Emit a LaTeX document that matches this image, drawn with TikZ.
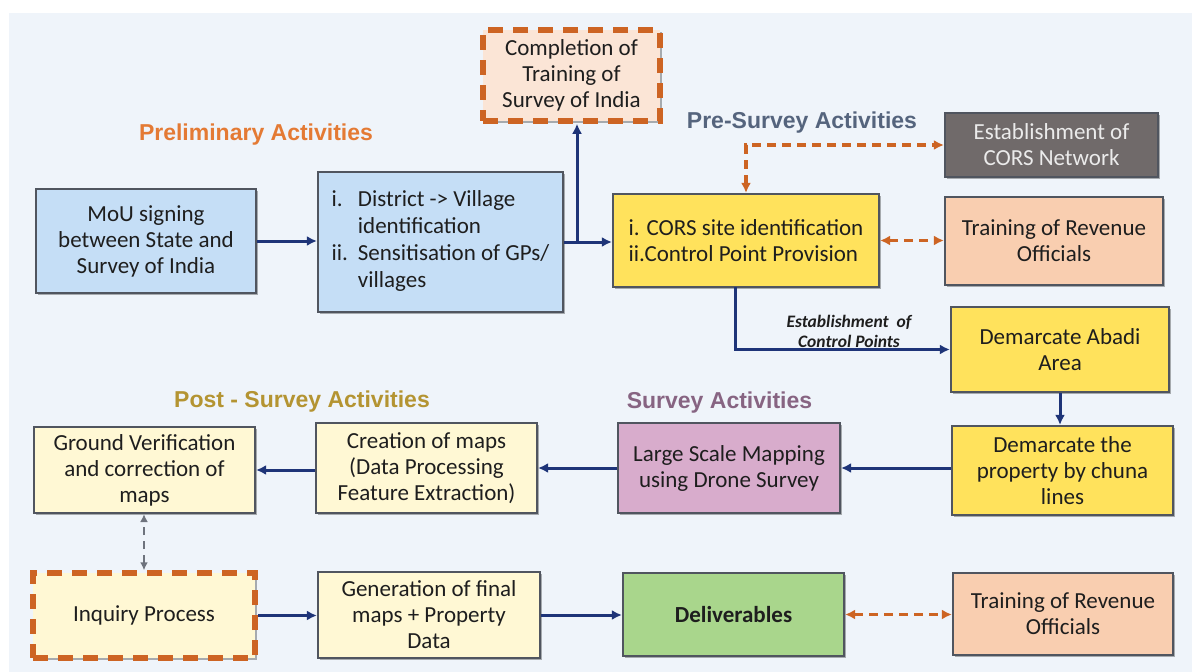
\documentclass[tikz,border=0pt]{standalone}
\usepackage{fontspec}
\setmainfont{Carlito}
\newfontfamily\titlefont{Liberation Sans}
\usetikzlibrary{arrows.meta,shadows}
\definecolor{panel}{RGB}{239,244,250}
\definecolor{boxline}{RGB}{80,85,95}
\definecolor{txt}{RGB}{30,30,30}
\definecolor{lblue}{RGB}{197,222,246}
\definecolor{peach}{RGB}{251,229,214}
\definecolor{orng}{RGB}{205,100,35}
\definecolor{yell}{RGB}{255,226,92}
\definecolor{grayb}{RGB}{112,106,106}
\definecolor{lgtxt}{RGB}{235,235,235}
\definecolor{salmon}{RGB}{249,206,176}
\definecolor{cream}{RGB}{255,248,212}
\definecolor{mauve}{RGB}{216,172,204}
\definecolor{lgreen}{RGB}{169,214,140}
\definecolor{navy}{RGB}{30,52,120}
\definecolor{tPre}{RGB}{228,122,52}
\definecolor{tPreS}{RGB}{85,100,125}
\definecolor{tPost}{RGB}{180,148,50}
\definecolor{tSurv}{RGB}{135,100,130}
\definecolor{gdash}{RGB}{110,115,125}
\begin{document}
\begin{tikzpicture}[x=1pt,y=-1pt,
  box/.style={rectangle, draw=boxline, line width=2.2pt, inner sep=3pt, align=center,
    text=txt, font=\fontsize{23}{26}\selectfont,
    drop shadow={shadow xshift=1.5pt, shadow yshift=-1.5pt, opacity=0.3, fill=black}},
  sz/.style 2 args={minimum width=#1pt, minimum height=#2pt},
  dashbox/.style={draw=orng, line width=5.5pt, dash pattern=on 15pt off 10pt},
  title/.style={font=\titlefont\bfseries\fontsize{23}{26}\selectfont, inner sep=0pt},
  arr/.style={draw=navy, line width=3pt, -{Latex[length=10pt,width=10pt]}},
  oarr/.style={draw=orng, line width=3.2pt, dash pattern=on 9pt off 6pt,
    {Latex[length=10pt,width=10pt]}-{Latex[length=10pt,width=10pt]}},
  garr/.style={draw=gdash, line width=2.6pt, dash pattern=on 8pt off 6pt,
    {Latex[length=8pt,width=8pt]}-{Latex[length=8pt,width=8pt]}}
]
\useasboundingbox (0,0) rectangle (1192,672);
\fill[white] (0,0) rectangle (1192,672);
\fill[panel] (9,13) rectangle (1192,672);

% titles
\node[title, text=tPre] (tprel) at (256,135) {Preliminary Activities};
\node[title, text=tPreS] (tpres) at (802,123) {Pre-Survey Activities};
\node[title, text=tPost] (tpost) at (302,402) {Post - Survey Activities};
\node[title, text=tSurv] (tsurv) at (719.5,403) {Survey Activities};

% boxes
\node[box, fill=lblue, sz={220}{104}] (mou) at (146,241) {MoU signing\\between State and\\Survey of India};
\node[box, fill=lblue, sz={245}{140}, font=\fontsize{23}{27}\selectfont] (dist) at (440.5,242)
  {\begin{tabular}{@{}l@{\hspace{10pt}}l@{}}i. & District -> Village\\ & identification\\ ii. & Sensitisation of GPs/\\ & villages\end{tabular}};
\node[box, fill=peach, sz={177}{91}, dashbox] (comp) at (571.5,75.5) {Completion of\\Training of\\Survey of India};
\node[box, fill=yell, sz={266}{93}, align=left] (cors) at (746,240.5) {i. CORS site identification\\ii.Control Point Provision};
\node[box, fill=grayb, sz={213}{64}, text=lgtxt] (estc) at (1051.5,145) {Establishment of\\CORS Network};
\node[box, fill=salmon, sz={218}{88}] (trn1) at (1054,241) {Training of Revenue\\Officials};
\node[box, fill=yell, sz={218}{85}] (abadi) at (1060,349.5) {Demarcate Abadi\\Area};
\node[box, fill=yell, sz={221}{89}] (prop) at (1062.5,470.5) {Demarcate the\\property by chuna\\lines};
\node[box, fill=mauve, sz={222}{90}] (large) at (729,468) {Large Scale Mapping\\using Drone Survey};
\node[box, fill=cream, sz={221}{90}] (creat) at (426.5,468) {Creation of maps\\(Data Processing\\Feature Extraction)};
\node[box, fill=cream, sz={221}{86}] (gv) at (144.5,470) {Ground Verification\\and correction of\\maps};
\node[box, fill=cream, sz={222}{85}, dashbox] (inq) at (144,615.5) {Inquiry Process};
\node[box, fill=cream, sz={222}{86}] (gen) at (429,615) {Generation of final\\maps + Property\\Data};
\node[box, fill=lgreen, sz={221}{83}, font=\bfseries\fontsize{23}{26}\selectfont] (deliv) at (733.5,614.5) {Deliverables};
\node[box, fill=salmon, sz={220}{82}] (trn2) at (1063,614) {Training of Revenue\\Officials};

% label
\node[align=center, text=txt, font=\bfseries\itshape\fontsize{17.5}{20}\selectfont, inner sep=0pt] (lbl) at (849,331) {Establishment~~of\\Control Points};

% connectors
\draw[arr] (mou.east) -- (dist.west |- mou.east);
\draw[arr] (dist.east) -- (cors.west |- dist.east);
\coordinate (jn) at (577,241);
\draw[arr] (jn) -- (jn |- comp.south);
\draw[oarr] (cors.north) |- (estc.west);
\draw[oarr] (cors.east) -- (trn1.west |- cors.east);
\coordinate (cdown) at (735,287);
\draw[arr] (cdown) |- (abadi.west);
\draw[arr] (abadi.south) -- (abadi.south |- prop.north);
\draw[arr] (prop.west |- large.east) -- (large.east);
\draw[arr] (large.west) -- (creat.east);
\draw[arr] (creat.west |- gv.east) -- (gv.east);
\draw[garr] (inq.north) -- (inq.north |- gv.south);
\draw[arr] (inq.east) -- (gen.west |- inq.east);
\draw[arr] (gen.east) -- (deliv.west |- gen.east);
\draw[oarr] (deliv.east) -- (trn2.west |- deliv.east);
\end{tikzpicture}
\end{document}
